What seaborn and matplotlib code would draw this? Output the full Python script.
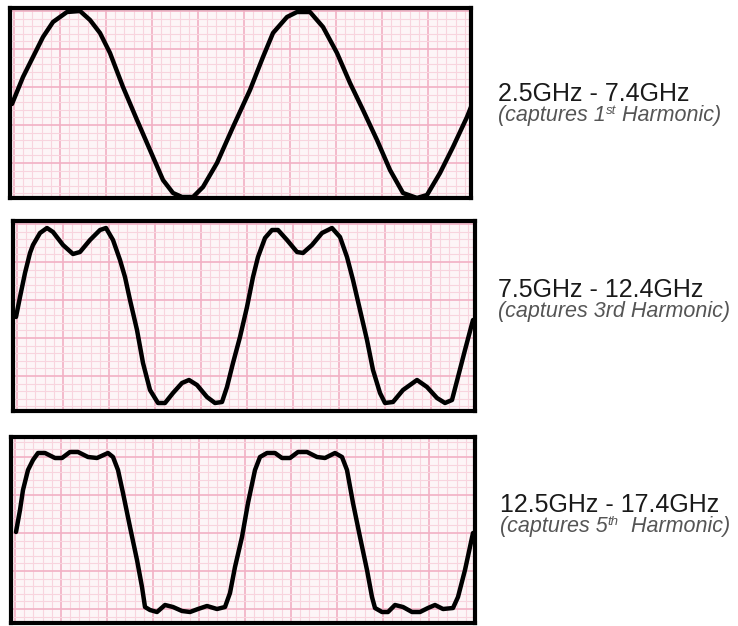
import numpy as np
import pandas as pd
import matplotlib
matplotlib.use("Agg")
import matplotlib.pyplot as plt
import seaborn as sns

sns.set_theme(style="white")
plt.rcParams["font.family"] = ["Liberation Sans", "DejaVu Sans"]

# Sampled waveforms: time (screen units) and level relative to the centre line
band1_t = [2, 13, 23, 33, 43, 57, 70, 80, 90, 100, 113, 127, 140, 153, 163, 172, 183,
           193, 207, 223, 240, 253, 263, 277, 287, 300, 313, 327, 340, 353, 367, 380,
           393, 407, 417, 430, 443, 457, 461]
band1_v = [-1, 26, 46, 66, 81, 91, 92, 83, 70, 50, 16, -17, -47, -77, -90, -94, -94,
           -84, -60, -24, 13, 46, 70, 86, 91, 91, 76, 50, 20, -7, -37, -67,
           -90, -95, -92, -70, -44, -14, -4]

band2_t = [3, 7, 12, 17, 20, 27, 34, 40, 50, 60, 67, 77, 87, 93, 100, 107, 112, 117,
           124, 130, 137, 145, 152, 160, 169, 176, 184, 194, 202, 209, 214, 220, 227,
           234, 240, 245, 252, 259, 265, 274, 284, 290, 299, 309, 319, 327, 334, 340,
           347, 354, 360, 367, 372, 380, 390, 404, 414, 424, 432, 439, 445, 452, 460]
band2_v = [-1, 19, 43, 63, 71, 83, 88, 84, 71, 62, 64, 76, 86, 88, 76, 56, 39, 16,
           -14, -47, -74, -87, -87, -77, -67, -64, -69, -81, -87, -86, -71, -47, -21,
           9, 39, 59, 78, 86, 86, 76, 64, 63, 71, 83, 88, 79, 59, 36,
           6, -24, -54, -77, -87, -86, -74, -64, -71, -82, -87, -84, -61, -34, -4]

band3_t = [5, 9, 12, 17, 22, 27, 34, 44, 51, 59, 67, 77, 86, 97, 102, 107, 112, 119,
           126, 131, 134, 139, 146, 154, 162, 171, 179, 187, 196, 206, 214, 219, 224,
           231, 237, 244, 249, 256, 264, 271, 279, 287, 296, 306, 314, 324, 331, 336,
           342, 349, 356, 361, 364, 371, 377, 384, 392, 401, 409, 417, 424, 432, 442,
           447, 454, 462]
band3_v = [-2, 20, 40, 60, 70, 77, 77, 72, 72, 78, 78, 73, 72, 77, 73, 60, 37, 3,
           -30, -57, -77, -80, -82, -75, -77, -81, -82, -79, -76, -79, -77, -63, -37,
           -7, 27, 60, 73, 77, 77, 72, 72, 78, 78, 73, 72, 77, 73, 60,
           27, -7, -40, -67, -78, -82, -82, -75, -77, -82, -82, -78, -75, -79, -78,
           -67, -40, -3]

band_ranges = ["2.5GHz - 7.4GHz", "7.5GHz - 12.4GHz", "12.5GHz - 17.4GHz"]
band_notes = [
    [("(captures 1", False), ("st", True), (" Harmonic)", False)],
    [("(captures 3rd Harmonic)", False)],
    [("(captures 5", False), ("th", True), ("  Harmonic)", False)],
]

W, H = 738, 626
fig = plt.figure(figsize=(W / 100, H / 100), dpi=100)
fig.patch.set_facecolor("white")

# panel boxes in pixels: left, top, width, height, grid offsets (x, y), half-height
panels = [
    (10, 8, 461, 190, 4, 16, 95),
    (13, 221, 462, 190, 4, 16, 95),
    (11, 437, 464, 186, 4, -3, 93),
]
series = [(band1_t, band1_v), (band2_t, band2_v), (band3_t, band3_v)]
text_rows = [(498, 101, 121), (498, 297, 317), (500, 512, 532)]

paper = "#fdf5f7"
minor_c = "#f8d4de"
major_c = "#f2b0c4"

renderer = fig.canvas.get_renderer()

for (left, top, w, h, gx, gy, half), (t, v), label, note, (tx, ty1, ty2) in zip(
        panels, series, band_ranges, band_notes, text_rows):
    ax = fig.add_axes([left / W, 1 - (top + h) / H, w / W, h / H])
    ax.set_facecolor(paper)
    df = pd.DataFrame({"t": t, "v": v})
    sns.lineplot(data=df, x="t", y="v", ax=ax, color="black", lw=3.2,
                 sort=False, estimator=None, solid_joinstyle="round",
                 solid_capstyle="round")
    ax.set_xticks(np.arange(gx, w, 46))
    ax.set_xticks(np.arange(gx - 46, w, 9.2), minor=True)
    ax.set_yticks(np.arange(gy - 38 * 3, half, 38))
    ax.set_yticks(np.arange(gy - 38 * 3, half, 7.6), minor=True)
    ax.set_xlim(0, w)
    ax.set_ylim(-half, half)
    ax.tick_params(which="both", length=0, labelbottom=False, labelleft=False)
    ax.grid(which="minor", color=minor_c, lw=0.8)
    ax.grid(which="major", color=major_c, lw=1.2)
    ax.set_axisbelow(True)
    ax.set_xlabel("")
    ax.set_ylabel("")
    for sp in ax.spines.values():
        sp.set_visible(True)
        sp.set_color("black")
        sp.set_linewidth(3)

    fig.text(tx / W, 1 - ty1 / H, label, fontsize=18, color="#1a1a1a",
             ha="left", va="baseline")
    x = tx
    for piece, sup in note:
        size = 9.5 if sup else 15.5
        y = ty2 - (7 if sup else 0)
        txt = fig.text(x / W, 1 - y / H, piece, fontsize=size, color="#555555",
                       style="italic", ha="left", va="baseline")
        x += txt.get_window_extent(renderer=renderer).width

fig.savefig("out.png", dpi=100)
